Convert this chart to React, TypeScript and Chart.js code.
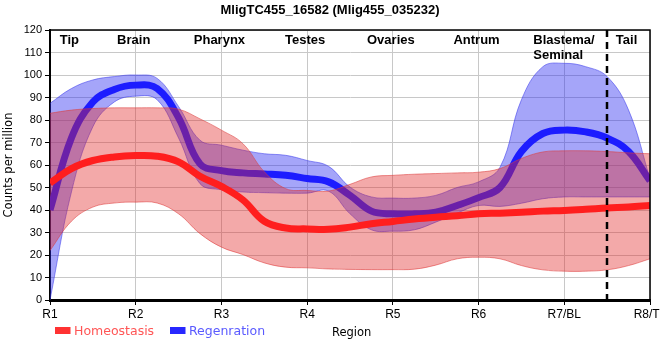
import React, { useEffect, useRef } from "react";
import { Chart, registerables } from "chart.js";

Chart.register(...registerables);

const chartTitle = "MligTC455_16582 (Mlig455_035232)";
const categories = ["R1", "R2", "R3", "R4", "R5", "R6", "R7/BL", "R8/TL"];
const regionNames = ["Tip", "Brain", "Pharynx", "Testes", "Ovaries", "Antrum", "Blastema/\nSeminal", "Tail"];
const regionAt = [0.25, 1, 2, 3, 4, 5, 6, 6.75];
const dividerAt = 6.5;
const seriesNames = ["Homeostasis", "Regenration"];

// sample positions along the region axis (category units)
const samplePos = [0, 0.25, 0.5, 0.75, 1, 1.25, 1.5, 1.75, 2, 2.25, 2.5, 2.75, 3, 3.25, 3.5, 3.75, 4, 4.25, 4.5, 4.75, 5, 5.25, 5.5, 5.75, 6, 6.25, 6.5, 6.75, 7];

const homeoMean = [52, 58.4, 62, 63.6, 64.2, 63.9, 61.4, 55, 50.5, 44.5, 35, 32, 31.6, 31.4, 32.4, 33.9, 34.9, 36, 36.8, 37.4, 38.3, 38.6, 39, 39.5, 39.8, 40.3, 40.9, 41.3, 42];
const homeoUpper = [83, 84.4, 85.1, 85.4, 85.4, 85.4, 84.8, 80.5, 75.5, 69.5, 57, 49.5, 48.7, 48.4, 51.4, 54.7, 55.4, 55.9, 56.2, 56.5, 56.8, 58.4, 62.9, 65.8, 66.3, 66.3, 66, 65.4, 65];
const homeoLower = [22, 35, 41.3, 43.1, 43.5, 43.1, 38.3, 29.5, 23.5, 20.2, 16.5, 14.6, 14.3, 13.8, 13.6, 13.5, 13.5, 13.7, 15.5, 18.3, 19, 18.3, 15.3, 13.4, 12.8, 12.8, 13.4, 15.3, 18.3];

const regenMean = [40, 72, 88, 93.6, 95.5, 94, 81, 60.5, 57.5, 56.5, 56, 55.4, 54, 52.5, 46.5, 39.5, 38.3, 38.3, 39, 42, 45.5, 50, 66, 74, 75.5, 74.7, 72, 66, 53];
const regenUpper = [87.4, 94, 97.8, 99.3, 100, 98.5, 86, 71, 68.8, 66.6, 65, 64.3, 62, 59.4, 50.2, 45.8, 45.3, 45.3, 46.5, 50, 52.5, 59, 89, 103.7, 105.2, 103.7, 99.3, 84.4, 54];
const regenLower = [0, 48, 77, 88, 90.6, 89, 72, 51.7, 49, 48, 47.7, 47.5, 47.5, 48.4, 38.3, 31.2, 30.6, 31.2, 34.6, 38.6, 42, 41.6, 43, 45, 45.8, 45.8, 45.8, 45.8, 45.8];

const RED_LINE = "rgb(255,30,30)";
const RED_BAND = "rgba(225,40,40,0.4)";
const RED_EDGE = "rgba(220,60,60,0.55)";
const BLUE_LINE = "rgb(28,28,255)";
const BLUE_BAND = "rgba(40,40,240,0.42)";
const BLUE_EDGE = "rgba(60,60,235,0.55)";
const TENSION = 0.4;

const pts = (ys: number[]) => ys.map((y, i) => ({ x: samplePos[i], y }));

const overlayPlugin = {
  id: "overlay",
  afterDatasetsDraw(chart: any) {
    const { ctx, chartArea: a, scales } = chart;
    const x = scales.x;
    ctx.save();
    const dx = Math.round(x.getPixelForValue(dividerAt));
    ctx.strokeStyle = "#000";
    ctx.lineWidth = 2.5;
    ctx.setLineDash([7, 5]);
    ctx.beginPath();
    ctx.moveTo(dx, a.top);
    ctx.lineTo(dx, a.bottom);
    ctx.stroke();
    ctx.setLineDash([]);
    ctx.lineWidth = 1.5;
    ctx.beginPath();
    ctx.moveTo(a.left, a.top);
    ctx.lineTo(a.right, a.top);
    ctx.lineTo(a.right, a.bottom);
    ctx.stroke();
    ctx.fillStyle = "#000";
    ctx.font = 'bold 13px "Liberation Sans", Arial, sans-serif';
    ctx.textBaseline = "alphabetic";
    regionNames.forEach((name, i) => {
      const lines = name.split("\n");
      const px = x.getPixelForValue(regionAt[i]) - 2;
      if (lines.length > 1) {
        ctx.textAlign = "left";
        lines.forEach((l, j) => ctx.fillText(l, px - 29, a.top + 13.5 + j * 15));
      } else {
        ctx.textAlign = "center";
        ctx.fillText(name, px, a.top + 13.5);
      }
    });
    ctx.textAlign = "center";
    ctx.fillText(chartTitle, 330, 13.5);
    ctx.font = '12.5px "DejaVu Sans", sans-serif';
    ctx.textAlign = "left";
    ctx.fillStyle = "rgb(255,50,50)";
    ctx.fillRect(55, 327, 15.5, 7);
    ctx.fillStyle = "rgb(255,85,85)";
    ctx.fillText(seriesNames[0], 74, 335);
    ctx.fillStyle = "rgb(40,40,255)";
    ctx.fillRect(170, 327, 15.5, 7);
    ctx.fillStyle = "rgb(90,90,255)";
    ctx.fillText(seriesNames[1], 189, 335);
    ctx.fillStyle = "#000";
    ctx.font = '11.5px "DejaVu Sans", sans-serif';
    ctx.fillText("Region", 332, 336);
    ctx.restore();
  },
};

export default function App() {
  const ref = useRef<HTMLCanvasElement>(null);
  useEffect(() => {
    if (!ref.current) return;
    const common = { pointRadius: 0, tension: TENSION };
    const chart = new Chart(ref.current, {
      type: "line",
      data: {
        datasets: [
          { ...common, label: "hm", data: pts(homeoMean), borderColor: RED_LINE, borderWidth: 7, fill: false, order: 0, borderCapStyle: "butt" } as any,
          { ...common, label: "hu", data: pts(homeoUpper), borderColor: RED_EDGE, borderWidth: 1, backgroundColor: RED_BAND, fill: { target: 2, above: RED_BAND, below: RED_BAND }, order: 1 },
          { ...common, label: "hl", data: pts(homeoLower), borderColor: RED_EDGE, borderWidth: 1, fill: false, order: 1 },
          { ...common, label: "rm", data: pts(regenMean), borderColor: BLUE_LINE, borderWidth: 7, fill: false, order: 2, borderCapStyle: "butt" },
          { ...common, label: "ru", data: pts(regenUpper), borderColor: BLUE_EDGE, borderWidth: 1, backgroundColor: BLUE_BAND, fill: { target: 5, above: BLUE_BAND, below: BLUE_BAND }, order: 3 },
          { ...common, label: "rl", data: pts(regenLower), borderColor: BLUE_EDGE, borderWidth: 1, fill: false, order: 3 },
        ],
      },
      options: {
        responsive: false,
        animation: false,
        layout: { padding: { left: 0, right: 10, top: 30, bottom: 0 } },
        plugins: { legend: { display: false }, title: { display: false }, tooltip: { enabled: false } },
        scales: {
          x: {
            type: "linear",
            min: 0,
            max: 7,
            ticks: {
              stepSize: 1,
              autoSkip: false,
              maxRotation: 0,
              color: "#000",
              padding: 2,
              font: { family: '"Liberation Sans", Arial, sans-serif', size: 12 },
              callback: (v: any) => categories[Math.round(Number(v))] ?? "",
            },
            grid: { color: "#c8c8c8", tickLength: 5, tickColor: "#000" },
            border: { color: "#000", width: 3 },
            afterFit: (s: any) => {
              s.paddingLeft = 0;
              s.paddingRight = 0;
              s.height = 60;
            },
          },
          y: {
            min: 0,
            max: 120,
            ticks: { stepSize: 10, color: "#000", padding: 3, font: { family: '"Liberation Sans", Arial, sans-serif', size: 11 } },
            grid: { color: "#c8c8c8", tickLength: 5, tickColor: "#000" },
            border: { color: "#000", width: 2 },
            title: { display: true, text: "Counts per million", color: "#000", padding: { top: 2, bottom: 0 }, font: { family: '"DejaVu Sans", sans-serif', size: 11.5 } },
            afterFit: (s: any) => {
              s.width = 50;
            },
          },
        },
      },
      plugins: [overlayPlugin],
    });
    return () => chart.destroy();
  }, []);
  return (
    <div style={{ position: "fixed", left: 0, top: 0, width: 660, height: 360, background: "#fff" }}>
      <canvas ref={ref} width={660} height={360} />
    </div>
  );
}
